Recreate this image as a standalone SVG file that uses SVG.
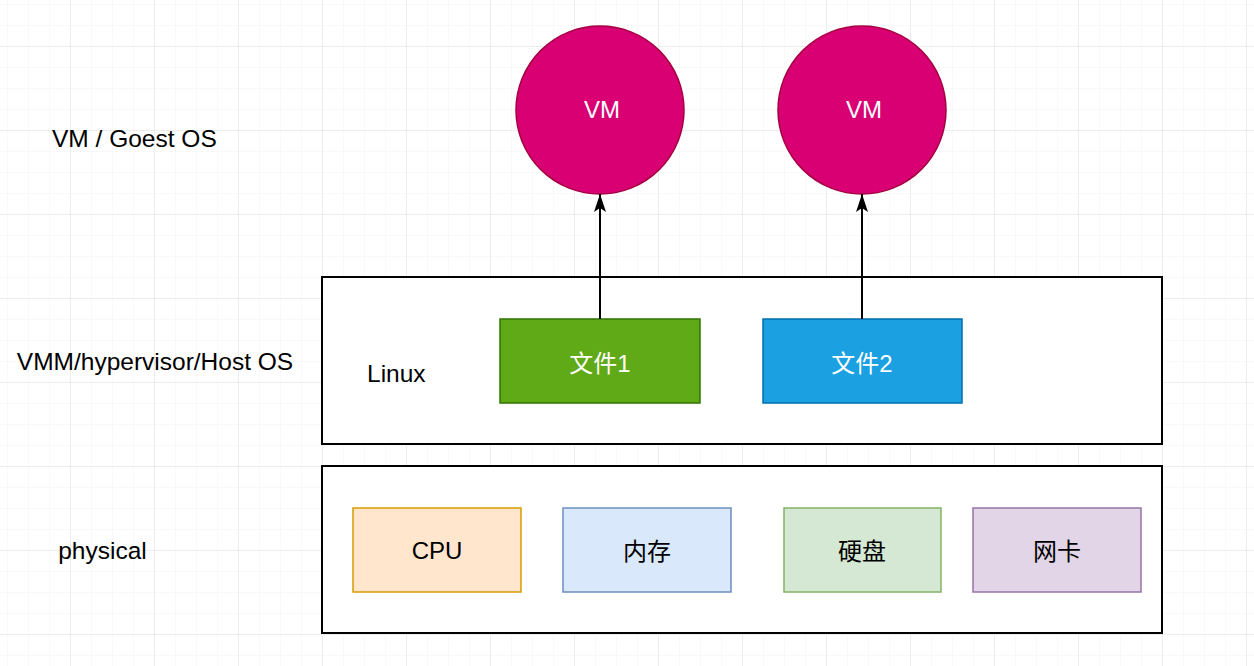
<svg xmlns="http://www.w3.org/2000/svg" width="1254" height="666" viewBox="0 0 1254 666">
<defs>
<pattern id="minor" x="7" y="4" width="21" height="21" patternUnits="userSpaceOnUse">
<path d="M0 0H21M0 0V21" fill="none" stroke="#f3f3f3" stroke-width="1"/>
</pattern>
<pattern id="major" x="70" y="46" width="84" height="84" patternUnits="userSpaceOnUse">
<path d="M0 0H84M0 0V84" fill="none" stroke="#e1e1e1" stroke-width="1"/>
</pattern>
<marker id="arr" markerWidth="24" markerHeight="16" viewBox="-20 -8 24 16" refX="0" refY="0" orient="auto" markerUnits="userSpaceOnUse">
<path d="M0 0 L-18 -6 L-14 0 L-18 6 Z" fill="#000"/>
</marker>
<style>
text{font-family:"Liberation Sans",Arial,"Noto Sans CJK SC",sans-serif;font-size:24px}
.lbl{fill:#000;font-size:24.5px}
.w{fill:#fff;text-anchor:middle}
.b{fill:#000;text-anchor:middle}
.frame{fill:#fff;stroke:#000;stroke-width:2}
.vm{fill:#d80073;stroke:#a50040;stroke-width:1.5}
</style>
</defs>
<rect width="1254" height="666" fill="#fff"/>
<rect width="1254" height="666" fill="url(#minor)"/>
<rect width="1254" height="666" fill="url(#major)"/>

<g id="label-vm">
<text class="lbl" x="52" y="147">VM / Goest OS</text>
</g>
<g id="label-vmm">
<text class="lbl" x="155" y="370" text-anchor="middle">VMM/hypervisor/Host OS</text>
</g>
<g id="label-physical">
<text class="lbl" x="102.5" y="559" text-anchor="middle">physical</text>
</g>

<g id="linux-box">
<rect class="frame" x="322" y="277" width="840" height="167"/>
<text class="lbl" x="367" y="382">Linux</text>
</g>
<g id="physical-box">
<rect class="frame" x="322" y="466" width="840" height="167"/>
</g>

<g id="vm1">
<circle class="vm" cx="600" cy="110" r="84"/>
<text class="w" x="602" y="118" font-size="25">VM</text>
</g>
<g id="vm2">
<circle class="vm" cx="862" cy="110" r="84"/>
<text class="w" x="864" y="118" font-size="25">VM</text>
</g>

<g id="file1">
<rect x="500" y="319" width="200" height="84" fill="#60a917" stroke="#2d7600" stroke-width="1.5"/>
<text class="w" x="600" y="372" font-size="25">文件1</text>
</g>
<g id="file2">
<rect x="763" y="319" width="199" height="84" fill="#1ba1e2" stroke="#006eaf" stroke-width="1.5"/>
<text class="w" x="862" y="372" font-size="25">文件2</text>
</g>

<g id="cpu">
<rect x="353" y="508" width="168" height="84" fill="#ffe6cc" stroke="#d79b00" stroke-width="1.5"/>
<text class="b" x="437" y="559">CPU</text>
</g>
<g id="mem">
<rect x="563" y="508" width="168" height="84" fill="#dae8fc" stroke="#6c8ebf" stroke-width="1.5"/>
<text class="b" x="647" y="560">内存</text>
</g>
<g id="disk">
<rect x="784" y="508" width="157" height="84" fill="#d5e8d4" stroke="#82b366" stroke-width="1.5"/>
<text class="b" x="862" y="560">硬盘</text>
</g>
<g id="nic">
<rect x="973" y="508" width="168" height="84" fill="#e1d5e7" stroke="#9673a6" stroke-width="1.5"/>
<text class="b" x="1057" y="560">网卡</text>
</g>

<g id="connectors" stroke="#000" stroke-width="2" fill="none">
<line x1="600" y1="319" x2="600" y2="194" marker-end="url(#arr)"/>
<line x1="862" y1="319" x2="862" y2="194" marker-end="url(#arr)"/>
</g>
</svg>
